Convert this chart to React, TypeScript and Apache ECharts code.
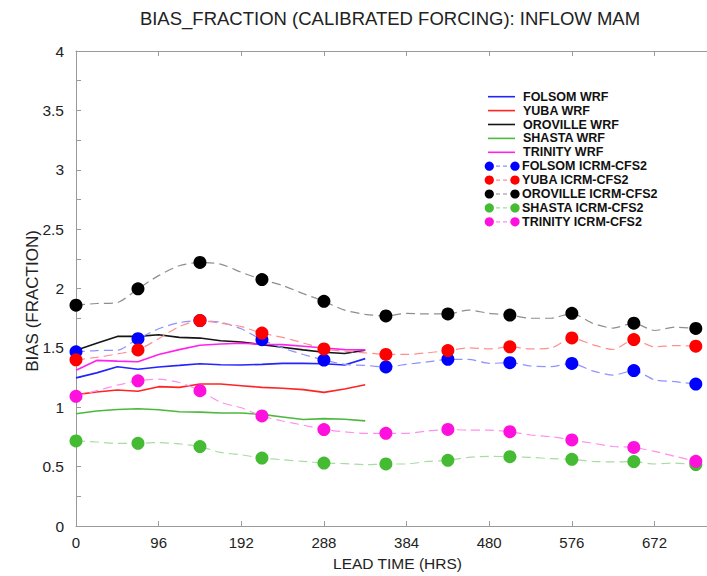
import React, { useEffect, useRef } from "react";
import * as echarts from "echarts";

// ---------- data ----------
const titleText = "BIAS_FRACTION (CALIBRATED FORCING): INFLOW MAM";
const xAxisName = "LEAD TIME (HRS)";
const yAxisName = "BIAS (FRACTION)";

const wrfHours = [0, 24, 48, 72, 96, 120, 144, 168, 192, 216, 240, 264, 288, 312, 336];
const icrmHours = [
  0, 24, 48, 72, 96, 120, 144, 168, 192, 216, 240, 264, 288, 312, 336, 360,
  384, 408, 432, 456, 480, 504, 528, 552, 576, 600, 624, 648, 672, 696, 720,
];

const wrfNames = ["FOLSOM WRF", "YUBA WRF", "OROVILLE WRF", "SHASTA WRF", "TRINITY WRF"];
const icrmNames = [
  "FOLSOM ICRM-CFS2",
  "YUBA ICRM-CFS2",
  "OROVILLE ICRM-CFS2",
  "SHASTA ICRM-CFS2",
  "TRINITY ICRM-CFS2",
];

const folsomWrf = [1.248, 1.29, 1.342, 1.32, 1.34, 1.353, 1.367, 1.359, 1.356, 1.362, 1.37, 1.37, 1.367, 1.356, 1.41];
const yubaWrf = [1.107, 1.129, 1.146, 1.135, 1.174, 1.168, 1.196, 1.196, 1.182, 1.168, 1.16, 1.149, 1.126, 1.154, 1.19];
const orovilleWrf = [1.481, 1.54, 1.597, 1.597, 1.611, 1.589, 1.583, 1.561, 1.55, 1.528, 1.506, 1.484, 1.464, 1.453, 1.481];
const shastaWrf = [0.946, 0.969, 0.982, 0.988, 0.98, 0.963, 0.96, 0.952, 0.952, 0.941, 0.919, 0.897, 0.905, 0.9, 0.886];
const trinityWrf = [1.312, 1.395, 1.389, 1.384, 1.445, 1.486, 1.522, 1.533, 1.539, 1.531, 1.528, 1.514, 1.5, 1.486, 1.484];

const folsomIcrm = [
  1.467, 1.478, 1.481, 1.578, 1.661, 1.713, 1.73, 1.716, 1.661, 1.569, 1.5, 1.445, 1.398, 1.362, 1.353, 1.34,
  1.362, 1.382, 1.404, 1.404, 1.37, 1.376, 1.348, 1.343, 1.37, 1.307, 1.271, 1.31, 1.232, 1.216, 1.196,
];
const yubaIcrm = [
  1.4, 1.42, 1.45, 1.483, 1.578, 1.68, 1.73, 1.708, 1.68, 1.625, 1.589, 1.542, 1.492, 1.472, 1.459, 1.445,
  1.445, 1.459, 1.478, 1.5, 1.492, 1.509, 1.492, 1.5, 1.584, 1.528, 1.487, 1.57, 1.509, 1.52, 1.515,
];
const orovilleIcrm = [
  1.86, 1.874, 1.882, 1.998, 2.109, 2.192, 2.22, 2.206, 2.137, 2.076, 2.026, 1.957, 1.893, 1.818, 1.783, 1.769,
  1.791, 1.786, 1.786, 1.819, 1.791, 1.777, 1.75, 1.75, 1.791, 1.708, 1.667, 1.708, 1.647, 1.675, 1.664,
];
const shastaIcrm = [
  0.717, 0.708, 0.697, 0.697, 0.703, 0.692, 0.67, 0.62, 0.6, 0.573, 0.559, 0.545, 0.531, 0.526, 0.517, 0.523,
  0.523, 0.545, 0.554, 0.579, 0.587, 0.584, 0.579, 0.568, 0.562, 0.545, 0.54, 0.543, 0.523, 0.531, 0.518,
];
const trinityIcrm = [
  1.093, 1.14, 1.187, 1.223, 1.237, 1.209, 1.14, 1.043, 0.996, 0.927, 0.885, 0.85, 0.813, 0.794, 0.78, 0.781,
  0.781, 0.8, 0.814, 0.808, 0.808, 0.795, 0.767, 0.753, 0.725, 0.698, 0.67, 0.662, 0.629, 0.587, 0.545,
];

const wrfValues = [folsomWrf, yubaWrf, orovilleWrf, shastaWrf, trinityWrf];
const icrmValues = [folsomIcrm, yubaIcrm, orovilleIcrm, shastaIcrm, trinityIcrm];

// ---------- styles ----------
const wrfColors = ["#2424ff", "#ff2424", "#151515", "#4cb83c", "#ff22ee"];
const markerColors = ["#0000ff", "#ff0000", "#000000", "#44bb33", "#ff11dd"];
const dashColors = ["#9090ff", "#ff9090", "#8e8e8e", "#a8dca2", "#ff90ee"];
const FONT = "'Liberation Sans', Arial, Helvetica, sans-serif";

export default function App() {
  const ref = useRef<HTMLDivElement>(null);

  useEffect(() => {
    if (!ref.current) return;
    const chart = echarts.init(ref.current, undefined, { renderer: "svg" });

    const series: any[] = [];
    wrfNames.forEach((name, k) => {
      series.push({
        type: "line",
        name,
        xAxisIndex: 0,
        data: wrfHours.map((h, i) => [h, wrfValues[k][i]]),
        showSymbol: false,
        lineStyle: { color: wrfColors[k], width: 1.6 },
        itemStyle: { color: wrfColors[k] },
        z: 2,
      });
    });
    icrmNames.forEach((name, k) => {
      series.push({
        type: "line",
        name,
        xAxisIndex: 0,
        data: icrmHours.map((h, i) => [h, icrmValues[k][i]]),
        smooth: 0.25,
        symbol: "circle",
        symbolSize: (_v: any, p: any) => (p.dataIndex % 3 === 0 ? 13 : 0),
        showSymbol: true,
        showAllSymbol: true,
        lineStyle: { color: dashColors[k], width: 1.2, type: [9, 5] },
        itemStyle: { color: markerColors[k] },
        z: 3,
      });
    });

    // legend built as graphics
    const legendEls: any[] = [];
    const lx0 = 488;
    const lx1 = 515;
    const ly0 = 96.7;
    const step = 13.9;
    const legendFont = `bold 12.5px ${FONT}`;
    wrfNames.forEach((name, k) => {
      const y = ly0 + k * step;
      legendEls.push({
        type: "line",
        shape: { x1: lx0, y1: y, x2: lx1, y2: y },
        style: { stroke: wrfColors[k], lineWidth: 1.6 },
      });
      legendEls.push({
        type: "text",
        x: 523,
        y,
        style: { text: name, fill: "#111", font: legendFont, verticalAlign: "middle", textAlign: "left" },
      });
    });
    icrmNames.forEach((name, k) => {
      const y = ly0 + (k + 5) * step;
      legendEls.push({
        type: "line",
        shape: { x1: lx0 + 1, y1: y, x2: lx1, y2: y },
        style: { stroke: dashColors[k], lineWidth: 1.2, lineDash: [4, 3] },
      });
      legendEls.push({
        type: "circle",
        shape: { cx: lx0 + 1.3, cy: y, r: 4.6 },
        style: { fill: markerColors[k] },
      });
      legendEls.push({
        type: "circle",
        shape: { cx: lx1, cy: y, r: 4.6 },
        style: { fill: markerColors[k] },
      });
      legendEls.push({
        type: "text",
        x: 522,
        y,
        style: { text: name, fill: "#111", font: legendFont, verticalAlign: "middle", textAlign: "left" },
      });
    });

    const axisLineStyle = { color: "#9a9a9a", width: 1 };
    const tickStyle = { color: "#9a9a9a", width: 1 };

    chart.setOption({
      animation: false,
      backgroundColor: "#ffffff",
      textStyle: { fontFamily: FONT },
      grid: { left: 76, top: 51, right: 0, bottom: 44, containLabel: false },
      xAxis: [
        {
          type: "value",
          position: "bottom",
          min: 0,
          max: 733,
          interval: 96,
          name: xAxisName,
          nameLocation: "middle",
          nameGap: 27,
          nameTextStyle: { fontSize: 15.5, color: "#222", fontFamily: FONT, padding: [0, 0, 0, 12] },
          axisLine: { show: true, lineStyle: axisLineStyle },
          axisTick: { show: true, inside: true, length: 5, lineStyle: tickStyle },
          axisLabel: { fontSize: 15, color: "#222", margin: 9, showMaxLabel: false, fontFamily: FONT },
          splitLine: { show: false },
        },
        {
          type: "value",
          position: "top",
          min: 0,
          max: 733,
          interval: 96,
          axisLine: { show: true, lineStyle: axisLineStyle },
          axisTick: { show: true, inside: true, length: 5, lineStyle: tickStyle },
          axisLabel: { show: false },
          splitLine: { show: false },
        },
      ],
      yAxis: {
        type: "value",
        min: 0,
        max: 4,
        interval: 0.5,
        axisLine: { show: true, lineStyle: axisLineStyle },
        axisTick: { show: true, inside: true, length: 5, lineStyle: tickStyle },
        minorTick: { show: true, splitNumber: 2, length: 5, lineStyle: tickStyle },
        axisLabel: { fontSize: 15.5, color: "#222", margin: 12, fontFamily: FONT },
        splitLine: { show: false },
        minorSplitLine: { show: false },
      },
      graphic: [
        {
          type: "text",
          x: 390,
          y: 18,
          style: {
            text: titleText,
            fill: "#222",
            font: `18.5px ${FONT}`,
            textAlign: "center",
            verticalAlign: "middle",
          },
        },
        {
          type: "text",
          x: 32,
          y: 301,
          rotation: Math.PI / 2,
          style: {
            text: yAxisName,
            fill: "#222",
            font: `17px ${FONT}`,
            textAlign: "center",
            verticalAlign: "middle",
          },
        },
        ...legendEls,
      ],
      series,
    });

    return () => chart.dispose();
  }, []);

  return (
    <div
      ref={ref}
      style={{ position: "absolute", left: 0, top: 0, width: 707, height: 576, background: "#fff" }}
    />
  );
}
